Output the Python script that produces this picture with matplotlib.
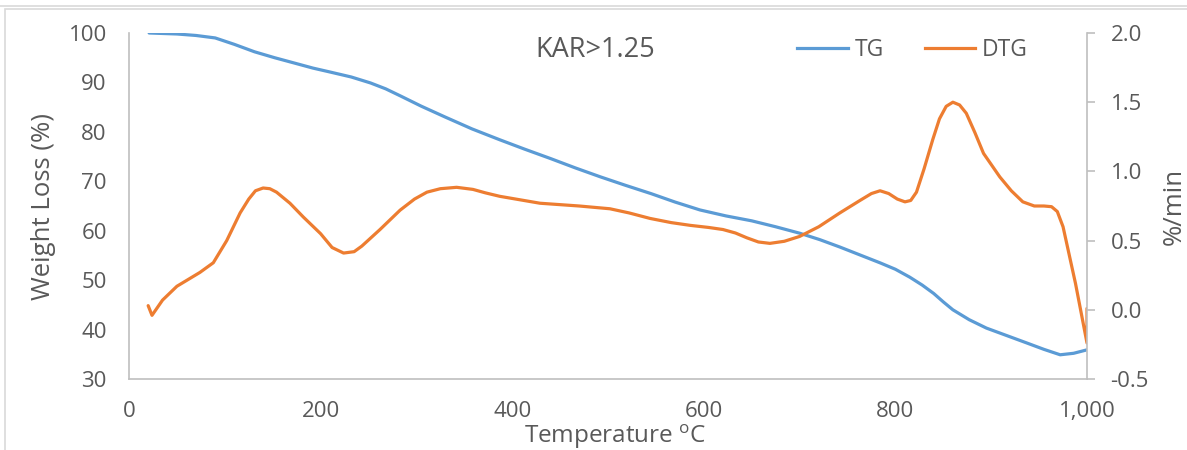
import matplotlib
matplotlib.use("Agg")
import matplotlib.pyplot as plt
from matplotlib.ticker import FuncFormatter, MultipleLocator
from matplotlib.lines import Line2D
from matplotlib.patches import Rectangle

# TG curve: temperature (°C) vs remaining weight (%)
tg_temp = [21, 50, 70, 90, 110, 131, 152, 173, 192, 210, 232, 252, 268, 283,
           305, 330, 358, 387, 413, 440, 466, 492, 518, 545, 570, 596, 623,
           650, 675, 700, 721, 742, 763, 784, 800, 815, 828, 840, 850, 860,
           877, 895, 916, 937, 955, 972, 986, 1000]
tg_weight = [100, 99.8, 99.5, 99.0, 97.7, 96.2, 95.0, 93.9, 92.9, 92.1, 91.1,
             89.9, 88.7, 87.3, 85.2, 83.0, 80.6, 78.4, 76.5, 74.6, 72.7, 70.9,
             69.2, 67.5, 65.8, 64.2, 63.0, 62.0, 60.8, 59.5, 58.2, 56.7, 55.1,
             53.5, 52.2, 50.6, 49.0, 47.3, 45.6, 44.0, 42.0, 40.3, 38.8, 37.3,
             36.0, 34.9, 35.2, 35.9]

# DTG curve: temperature (°C) vs rate of weight loss (%/min)
dtg_temp = [20, 24, 35, 50, 62, 74, 88, 102, 116, 125, 132, 140, 147, 154, 168,
            182, 200, 212, 224, 235, 243, 262, 283, 298, 311, 325, 342, 359,
            372, 387, 408, 429, 470, 502, 522, 544, 566, 586, 605, 620, 633,
            645, 657, 669, 684, 700, 720, 742, 763, 775, 784, 793, 802, 810,
            816, 822, 830, 839, 846, 853, 860, 867, 874, 883, 892, 909, 921,
            933, 945, 955, 963, 969, 975, 988, 1000, 1000]
dtg_rate = [0.03, -0.04, 0.07, 0.17, 0.22, 0.27, 0.34, 0.50, 0.70, 0.80, 0.86,
            0.88, 0.875, 0.85, 0.77, 0.67, 0.55, 0.45, 0.41, 0.42, 0.46, 0.58,
            0.72, 0.80, 0.85, 0.875, 0.885, 0.87, 0.845, 0.82, 0.795, 0.77,
            0.75, 0.73, 0.70, 0.66, 0.63, 0.61, 0.595, 0.58, 0.555, 0.52, 0.49,
            0.48, 0.495, 0.53, 0.60, 0.70, 0.79, 0.84, 0.86, 0.84, 0.80, 0.78,
            0.79, 0.85, 1.02, 1.23, 1.38, 1.47, 1.50, 1.48, 1.42, 1.28, 1.13,
            0.96, 0.86, 0.78, 0.75, 0.75, 0.745, 0.71, 0.60, 0.19, -0.24, 0.01]

title_text = "KAR>1.25"
series_names = ["TG", "DTG"]

BLUE = "#5B9BD5"
ORANGE = "#ED7D31"
TEXT = "#595959"
GRID = "#BFBFBF"

plt.rcParams["font.family"] = ["Open Sans", "DejaVu Sans"]

fig = plt.figure(figsize=(11.87, 4.5), dpi=100)
W, H = 1187, 450

# outer chart frame
fig.add_artist(Line2D([0, 1], [1 - 6 / H, 1 - 6 / H], transform=fig.transFigure,
                      color="#D9D9D9", lw=1.2))
fig.add_artist(Rectangle((5 / W, -0.1), 1.2, 1 - 9 / H + 0.1, transform=fig.transFigure,
                         fill=False, edgecolor="#D9D9D9", lw=1.2))

ax = fig.add_axes([129 / W, 1 - 379 / H, (1087 - 129) / W, (379 - 33) / H])
ax2 = ax.twinx()

ax.plot(tg_temp, tg_weight, color=BLUE, lw=2.3, solid_capstyle="round",
        solid_joinstyle="round", label=series_names[0])
ax2.plot(dtg_temp, dtg_rate, color=ORANGE, lw=2.3, solid_capstyle="round",
         solid_joinstyle="round", label=series_names[1])

ax.set_xlim(0, 1000)
ax.set_ylim(30, 100)
ax2.set_ylim(-0.5, 2.0)
ax.xaxis.set_major_locator(MultipleLocator(200))
ax.yaxis.set_major_locator(MultipleLocator(10))
ax2.yaxis.set_major_locator(MultipleLocator(0.5))
ax.xaxis.set_major_formatter(FuncFormatter(lambda v, p: f"{int(v):,}"))
ax2.yaxis.set_major_formatter(FuncFormatter(lambda v, p: f"{v:.1f}"))

for a in (ax, ax2):
    for s in a.spines.values():
        s.set_visible(False)
ax.spines["left"].set_visible(True)
ax.spines["bottom"].set_visible(True)
ax2.spines["right"].set_visible(True)
for s in (ax.spines["left"], ax.spines["bottom"], ax2.spines["right"]):
    s.set_color(GRID)
    s.set_linewidth(1.2)

ax.tick_params(axis="x", length=0, pad=16, labelsize=16, labelcolor=TEXT)
ax.tick_params(axis="y", length=0, pad=16, labelsize=16, labelcolor=TEXT)
ax2.tick_params(axis="y", length=6, width=1.2, color=GRID, pad=11,
                labelsize=16, labelcolor=TEXT)

ax.set_ylabel("Weight Loss (%)", fontsize=18.5, color=TEXT, labelpad=9)
ax2.set_ylabel("%/min", fontsize=18.5, color=TEXT, labelpad=9)
ax.set_xlabel("Temperature $^{\\mathregular{o}}$C", fontsize=17.5, color=TEXT)
ax.xaxis.set_label_coords((615 - 129) / 958, -0.165)
ax.xaxis.label.set_va("center")

ax.text((595 - 129) / 958, 0.95, title_text, transform=ax.transAxes, ha="center",
        va="center", fontsize=19.5, color=TEXT)

handles = [Line2D([], [], color=BLUE, lw=2.3), Line2D([], [], color=ORANGE, lw=2.3)]
ax.legend(handles, series_names, loc="upper right", bbox_to_anchor=(0.96, 1.045),
          ncol=2, frameon=False, fontsize=16.5, labelcolor=TEXT, handlelength=2.2,
          handletextpad=0.3, columnspacing=1.8)

fig.savefig("out.png", dpi=100, facecolor="white")
